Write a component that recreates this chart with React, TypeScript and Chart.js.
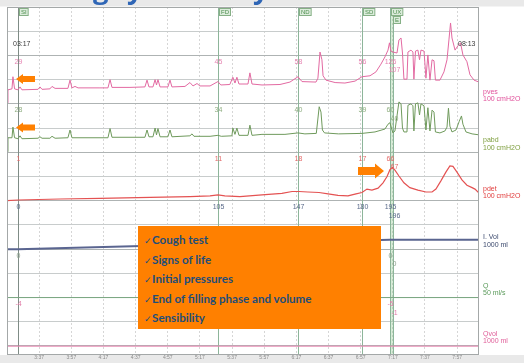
import React, { useEffect, useRef } from 'react';
import { Chart, registerables } from 'chart.js';

Chart.register(...registerables);

// ---------------- data ----------------
const titleWords = ['Filling', 'cystometry'];
const startClock = '03:17';
const endClock = '08:13';
const viewStart = 197; // seconds (3:17)
const viewEnd = 490.6;
const timeTickLabels = ['3:37', '3:57', '4:17', '4:37', '4:57', '5:17', '5:37', '5:57', '6:17', '6:37', '6:57', '7:17', '7:37', '7:57'];

const eventNames = ['SI', 'FD', 'ND', 'SD', 'UX', 'E'];
const eventTimes = [203.8, 328.2, 378.0, 417.8, 435.2, 437.1];
const pvesAtEvents = [29, 45, 58, 56, 126, 107];
const pabdAtEvents = [28, 34, 40, 39, 60, 40];
const pdetAtEvents = [1, 11, 18, 17, 66, 67];
const volAtEvents = [0, 105, 147, 180, 195, 196];
const qAtEvents = [0, 0, 0, 0, 0, 0];
const qvolAtEvents = [-4, -4, -4, -5, -5, -1];

const laneNames = ['pves', 'pabd', 'pdet', 'I. Vol', 'Q', 'Qvol'];
const laneUnits = ['100 cmH2O', '100 cmH2O', '100 cmH2O', '1000 ml', '50 ml/s', '1000 ml'];

const checklist = ['Cough test', 'Signs of life', 'Initial pressures', 'End of filling phase and volume', 'Sensibility'];

// [seconds, value]
const pvesTrace: [number, number][] = [
  [197, 2], [197.6, 29], [200.1, 31], [200.7, 56], [201.7, 31], [203.8, 29], [205.1, 35], [206.3, 29],
  [216.3, 30], [217.5, 35], [218.8, 30], [223.7, 31], [225, 36], [226.9, 32], [234.9, 32], [236.2, 49],
  [237.4, 33], [239.3, 36], [241.2, 33], [254.8, 33], [259.8, 33], [261.1, 50], [262.3, 34], [273.5, 34],
  [282.8, 35], [284.1, 49], [285.3, 35], [287.8, 35], [289.1, 50], [290, 39], [290.9, 50], [292.2, 35],
  [297.1, 35], [298.4, 49], [299.6, 35], [307.7, 36], [310.8, 44], [312.7, 37], [315.2, 42], [317, 37],
  [323.3, 37], [328.2, 46], [330, 39], [335.6, 40], [337.5, 55], [338.8, 43], [340, 55], [341.3, 41],
  [346.9, 41], [348.1, 64], [349.4, 41], [355.6, 39], [366.8, 40], [373, 45], [378, 56], [380.5, 46],
  [389.2, 45], [390.4, 53], [391.7, 107], [392.9, 91], [393.6, 58], [395.4, 49], [401.1, 44], [407.2, 43],
  [413.5, 47], [417.8, 56], [422.8, 58], [426.5, 66], [429.6, 82], [432.1, 97], [434, 111], [434.9, 126],
  [435.8, 109], [437.1, 107], [439.6, 105], [440.8, 132], [442.1, 136], [443, 105], [443.9, 51], [445.8, 51],
  [446.4, 107], [448.3, 111], [449.5, 107], [450.1, 51], [451.1, 109], [452.6, 111], [453.6, 91], [454.5, 111],
  [456.4, 109], [457.6, 53], [458.8, 101], [460.1, 49], [461.4, 91], [462.6, 89], [463.5, 49], [466.3, 49],
  [468.8, 66], [470.7, 91], [471.9, 132], [472.9, 167], [473.8, 136], [475.7, 111], [477.5, 120], [479.1, 126],
  [480.6, 101], [483.1, 87], [485, 60], [487.5, 49], [490.6, 45],
];

const pabdTrace: [number, number][] = [
  [197, 1], [197.6, 30], [200.1, 30], [200.7, 52], [201.7, 30], [203.8, 28], [205.1, 34], [206.3, 28],
  [216.3, 29], [217.5, 32], [218.8, 29], [223.7, 29], [225, 33], [226.9, 29], [234.9, 30], [236.2, 46],
  [237.4, 30], [259.8, 30], [261.1, 49], [262.3, 31], [282.8, 31], [284.1, 46], [285.3, 32], [287.8, 32],
  [289.1, 50], [290, 36], [290.9, 49], [292.2, 32], [297.1, 32], [298.4, 46], [299.6, 32], [310.8, 34],
  [312.1, 38], [313.3, 33], [323.3, 33], [328.2, 35], [330.3, 33], [336.9, 34], [337.5, 50], [338.8, 37],
  [340, 50], [341.3, 35], [346.9, 35], [348.1, 56], [349.4, 35], [355.6, 37], [369.9, 37], [378, 40],
  [382.3, 38], [389.4, 39], [391.2, 94], [392.3, 83], [393.2, 46], [394.5, 40], [403.2, 38], [417.8, 39],
  [425.9, 42], [432.1, 48], [434, 58], [435.2, 61], [436.3, 48], [437.1, 40], [438.3, 44], [440.8, 104],
  [442.1, 100], [443, 50], [443.9, 42], [445.8, 42], [446.4, 97], [448.3, 100], [449.5, 96], [450.1, 44],
  [451.1, 100], [452.6, 102], [453.6, 77], [454.5, 100], [456.4, 96], [457.6, 46], [458.8, 92], [460.1, 44],
  [461.4, 87], [462.6, 83], [463.5, 42], [466.3, 40], [469.4, 44], [470.7, 52], [471.6, 91], [472.5, 54],
  [473.8, 42], [476.3, 46], [478.2, 63], [479.7, 75], [480.6, 58], [482.5, 42], [486.3, 38], [490.6, 36],
];

const pdetTrace: [number, number][] = [
  [197, 0], [203.8, 1.5], [230, 3.5], [254.8, 5], [286, 7], [310.8, 8.5], [323.3, 10], [328.2, 12],
  [332.5, 10], [341.9, 8.5], [355.6, 12], [368, 15], [374.3, 19], [378.6, 19], [384.2, 18], [391.1, 17],
  [396.7, 14], [402.9, 11], [409.1, 10], [414.1, 14], [417.8, 17], [420.9, 24], [424, 22], [427.8, 26],
  [430.9, 37], [433.4, 50], [435.2, 64], [436.8, 69], [438.3, 63], [440.8, 51], [443.9, 37], [447.6, 27],
  [452.6, 22], [457.6, 18], [461.4, 18], [463.8, 24], [466.9, 41], [470, 59], [472.5, 72], [474.4, 71],
  [476.9, 59], [480, 43], [483.1, 32], [486.3, 27], [488.1, 24], [490.6, 16],
];

const ivolTrace: [number, number][] = [
  [197, 0], [203.8, 0], [328.2, 105], [378, 147], [417.8, 180], [435.2, 195], [437.1, 196], [490.6, 196],
];
const qTrace: [number, number][] = [[197, 0], [490.6, 0]];
const qvolTrace: [number, number][] = [[197, -4], [490.6, -4]];

// ---------------- styling / layout ----------------
const lanes = [
  { trace: pvesTrace, at: pvesAtEvents, bottomRow: 10, perRow: 50, line: '#e36aa2', width: 1, value: '#e684b2', label: '#e0509a' },
  { trace: pabdTrace, at: pabdAtEvents, bottomRow: 8, perRow: 50, line: '#6f9a5c', width: 1, value: '#8fae80', label: '#7f9f3f' },
  { trace: pdetTrace, at: pdetAtEvents, bottomRow: 6, perRow: 50, line: '#e45252', width: 1.2, value: '#e46a6a', label: '#e03c3c' },
  { trace: ivolTrace, at: volAtEvents, bottomRow: 4, perRow: 500, line: '#5a6590', width: 2, value: '#5a6a8a', label: '#3c4a6e' },
  { trace: qTrace, at: qAtEvents, bottomRow: 2, perRow: 25, line: '#7aa882', width: 1, value: '#8aa08a', label: '#5a9a5a' },
  { trace: qvolTrace, at: qvolAtEvents, bottomRow: 0, perRow: 500, line: '#e886b0', width: 1, value: '#e07aa6', label: '#e0609a' },
];

const toSec = (s: string) => {
  const [m, ss] = s.split(':').map(Number);
  return m * 60 + ss;
};
const tickSecs = timeTickLabels.map(toSec);
const rowTicks = Array.from({ length: 15 }, (_, i) => i);
const ORANGE = '#ff8000';
const FONT = '"Liberation Sans", Arial, sans-serif';

function drawArrow(ctx: CanvasRenderingContext2D, tipX: number, cy: number, dir: number, len: number, headLen: number, headH: number, shaftH: number) {
  const tail = tipX - dir * len;
  const hb = tipX - dir * headLen;
  ctx.beginPath();
  ctx.moveTo(tipX, cy);
  ctx.lineTo(hb, cy - headH / 2);
  ctx.lineTo(hb, cy - shaftH / 2);
  ctx.lineTo(tail, cy - shaftH / 2);
  ctx.lineTo(tail, cy + shaftH / 2);
  ctx.lineTo(hb, cy + shaftH / 2);
  ctx.lineTo(hb, cy + headH / 2);
  ctx.closePath();
  ctx.fill();
}

const overlayPlugin = {
  id: 'uroOverlay',
  beforeDraw(chart: any) {
    const { ctx, width, height } = chart;
    ctx.save();
    ctx.fillStyle = '#ffffff';
    ctx.fillRect(0, 0, width, height);
    ctx.fillStyle = '#e9e9e9';
    ctx.fillRect(0, 0, width, 6.5);
    ctx.fillRect(0, 355, width, height - 355);
    ctx.beginPath();
    ctx.rect(0, 0, width, 6.5);
    ctx.clip();
    ctx.fillStyle = '#2f66b6';
    ctx.textBaseline = 'alphabetic';
    ctx.textAlign = 'left';
    // size the title so the descenders fall where the reference shows them
    ctx.font = 'bold 30px "Open Sans"';
    const span = ctx.measureText('cystometr').width - ctx.measureText('c').width;
    const size = (30 * 126) / span;
    ctx.font = `bold ${size.toFixed(2)}px "Open Sans"`;
    const x2 = 127 - ctx.measureText('c').width;
    const x1 = 93 - ctx.measureText('Fillin').width;
    ctx.fillText(titleWords[0], x1, -1.5);
    ctx.fillText(titleWords[1], x2, -1.5);
    ctx.restore();
  },
  beforeDatasetsDraw(chart: any) {
    const { ctx, chartArea } = chart;
    const xs = chart.scales.x;
    ctx.save();
    const px = eventTimes.map((t) => Math.round(xs.getPixelForValue(t)) + 0.5);
    ctx.fillStyle = 'rgba(140,200,140,0.35)';
    ctx.fillRect(px[4], chartArea.top, px[5] - px[4], chartArea.bottom - chartArea.top);
    ctx.lineWidth = 1;
    px.forEach((x, i) => {
      ctx.strokeStyle = i === 0 ? '#7f8c86' : '#8db59a';
      ctx.beginPath();
      ctx.moveTo(x, chartArea.top);
      ctx.lineTo(x, chartArea.bottom);
      ctx.stroke();
    });
    ctx.restore();
  },
  afterDatasetsDraw(chart: any) {
    const { ctx, chartArea } = chart;
    const xs = chart.scales.x;
    const ys = chart.scales.y;
    ctx.save();
    // frame
    ctx.strokeStyle = '#a4a8a8';
    ctx.lineWidth = 1;
    ctx.strokeRect(Math.round(chartArea.left) + 0.5, Math.round(chartArea.top) + 0.5, Math.round(chartArea.right - chartArea.left) - 1, Math.round(chartArea.bottom - chartArea.top));

    const px = eventTimes.map((t) => Math.round(xs.getPixelForValue(t)) + 0.5);
    // event boxes
    ctx.font = `6px ${FONT}`;
    ctx.textBaseline = 'middle';
    ctx.textAlign = 'left';
    eventNames.forEach((name, i) => {
      const w = ctx.measureText(name).width + 3;
      const x = i === 5 ? px[i] : px[i] + 1;
      const y = i === 5 ? 16.5 : 8.5;
      ctx.fillStyle = '#dcecdc';
      ctx.fillRect(x, y, w, 7);
      ctx.strokeStyle = '#86b086';
      ctx.strokeRect(x, y, w, 7);
      ctx.fillStyle = '#4e8e4e';
      ctx.fillText(name, x + 1.5, y + 3.8);
    });

    // event values
    ctx.font = `7px ${FONT}`;
    ctx.textAlign = 'center';
    lanes.forEach((lane) => {
      const yTop = ys.getPixelForValue(lane.bottomRow + 2) + 6.5;
      lane.at.forEach((v, i) => {
        const x = px[i] + (i === 5 ? 1 : 0);
        const y = yTop + (i === 5 ? 8.5 : 0);
        ctx.fillStyle = lane.value;
        ctx.fillText(String(v), x, y);
      });
    });

    // lane labels on the right
    ctx.textAlign = 'left';
    lanes.forEach((lane, i) => {
      const yb = ys.getPixelForValue(lane.bottomRow);
      ctx.fillStyle = lane.label;
      ctx.fillText(laneNames[i], chartArea.right + 4, yb - 12);
      ctx.fillText(laneUnits[i], chartArea.right + 4, yb - 4.5);
    });

    // clock labels
    ctx.fillStyle = '#3a3a3a';
    ctx.fillText(startClock, 13, 44.5);
    ctx.fillText(endClock, 458, 44.5);

    // arrows
    ctx.fillStyle = ORANGE;
    drawArrow(ctx, 16, 79, -1, 19, 7, 10, 6);
    drawArrow(ctx, 16, 127.5, -1, 19, 7, 10, 6);
    drawArrow(ctx, 384, 171, 1, 26, 9, 15, 8);
    ctx.restore();
  },
};

export default function App() {
  const canvasRef = useRef<HTMLCanvasElement | null>(null);

  useEffect(() => {
    const canvas = canvasRef.current;
    if (!canvas) return;
    const datasets = lanes.map((lane) => ({
      data: lane.trace.map(([t, v]) => ({ x: t, y: lane.bottomRow + v / lane.perRow })),
      borderColor: lane.line,
      borderWidth: lane.width,
      pointRadius: 0,
      tension: 0,
      fill: false,
    }));
    const chart = new Chart(canvas, {
      type: 'line',
      data: { datasets },
      options: {
        animation: false,
        responsive: false,
        devicePixelRatio: 1,
        events: [],
        layout: { padding: { left: 7, top: 7, right: 45, bottom: 1 } },
        plugins: { legend: { display: false }, tooltip: { enabled: false }, title: { display: false } },
        scales: {
          x: {
            type: 'linear',
            min: viewStart,
            max: viewEnd,
            afterBuildTicks: (s: any) => {
              s.ticks = tickSecs.map((v) => ({ value: v }));
            },
            ticks: {
              autoSkip: false,
              maxRotation: 0,
              padding: 1,
              font: { size: 5, family: FONT },
              color: '#8a8a8a',
              callback: (v: any) => {
                const i = tickSecs.indexOf(Number(v));
                return i >= 0 ? timeTickLabels[i] : '';
              },
            },
            grid: { color: '#d6d6d6', lineWidth: 1, drawTicks: false },
            border: { display: false, dash: [2, 2] },
          },
          y: {
            type: 'linear',
            min: -0.3304,
            max: 14,
            afterBuildTicks: (s: any) => {
              s.ticks = rowTicks.map((v) => ({ value: v }));
            },
            ticks: { display: false },
            grid: {
              drawTicks: false,
              lineWidth: 1,
              color: (c: any) => (c.tick && c.tick.value % 2 === 0 ? '#aeb3b3' : '#c8cccc'),
            },
            border: { display: false },
          },
        },
      } as any,
      plugins: [overlayPlugin],
    });
    return () => chart.destroy();
  }, []);

  const lineCenters = [240, 259.5, 279, 298.5, 318];
  return (
    <div style={{ position: 'fixed', left: 0, top: 0, width: 524, height: 363, overflow: 'hidden' }}>
      <canvas ref={canvasRef} width={524} height={363} style={{ display: 'block', width: 524, height: 363 }} />
      <div style={{ position: 'absolute', left: 138, top: 226, width: 243, height: 103, background: ORANGE }}>
        {checklist.map((item, i) => (
          <div
            key={item}
            style={{
              position: 'absolute',
              left: 6,
              top: lineCenters[i] - 226 - 8,
              height: 16,
              lineHeight: '16px',
              whiteSpace: 'nowrap',
              color: '#1f4e79',
              fontFamily: 'Lato, "Open Sans", sans-serif',
              fontWeight: 700,
              fontSize: 11.6,
            }}
          >
            <span style={{ fontFamily: '"DejaVu Sans", sans-serif', fontSize: 9, fontWeight: 400, marginRight: 0.5 }}>✓</span>
            {item}
          </div>
        ))}
      </div>
    </div>
  );
}
